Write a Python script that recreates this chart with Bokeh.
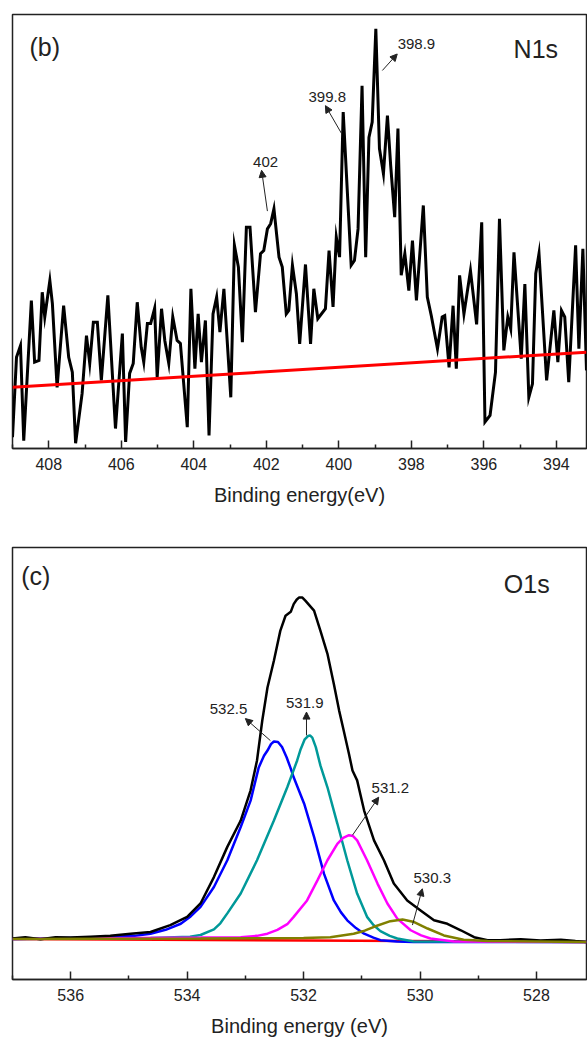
from bokeh.plotting import figure
from bokeh.models import Range1d, FixedTicker, Label, Arrow, NormalHead
from bokeh.layouts import column
from bokeh.embed import file_html
from bokeh.resources import INLINE

# ---------------- N1s (panel b) ----------------
n1s_energy = [409.00, 408.89, 408.78, 408.69, 408.48, 408.39, 408.27, 408.18, 408.11, 407.97,
              407.90, 407.77, 407.59, 407.45, 407.35, 407.26, 407.08, 406.96, 406.87, 406.77,
              406.66, 406.55, 406.37, 406.16, 405.97, 405.88, 405.77, 405.67, 405.56, 405.45,
              405.38, 405.28, 405.19, 405.08, 405.01, 404.89, 404.80, 404.69, 404.58, 404.46,
              404.37, 404.18, 404.08, 403.97, 403.88, 403.79, 403.68, 403.58, 403.47, 403.37,
              403.28, 403.17, 402.98, 402.88, 402.77, 402.66, 402.55, 402.45, 402.30, 402.16,
              402.07, 401.97, 401.88, 401.79, 401.65, 401.56, 401.45, 401.38, 401.28, 401.17,
              401.08, 400.92, 400.78, 400.69, 400.58, 400.37, 400.27, 400.16, 400.07, 399.98,
              399.88, 399.66, 399.57, 399.47, 399.36, 399.26, 399.17, 399.08, 398.98, 398.88,
              398.77, 398.66, 398.57, 398.46, 398.37, 398.28, 398.18, 398.07, 397.97, 397.86,
              397.67, 397.56, 397.45, 397.28, 397.15, 397.08, 396.96, 396.85, 396.76, 396.67,
              396.55, 396.37, 396.20, 396.06, 395.97, 395.83, 395.68, 395.57, 395.45, 395.34,
              395.26, 395.17, 394.97, 394.87, 394.76, 394.66, 394.57, 394.48, 394.27, 394.07,
              393.96, 393.86, 393.77, 393.66, 393.47, 393.38, 393.27, 393.17]
n1s_counts = [2.6, 21.0, 23.7, 1.8, 34.1, 19.9, 20.3, 36.0, 30.3, 38.7,
              33.4, 14.1, 32.9, 21.0, 17.6, 1.2, 12.7, 26.0, 19.6, 29.1,
              29.1, 15.7, 35.3, 4.6, 26.5, 1.5, 17.3, 19.6, 33.7, 23.3,
              19.9, 28.8, 28.8, 32.3, 16.4, 32.2, 24.9, 19.6, 30.3, 24.9,
              24.2, 4.9, 36.8, 18.4, 31.0, 19.9, 29.5, 3.0, 31.0, 34.9,
              26.8, 36.8, 11.8, 46.8, 41.8, 24.5, 51.0, 51.0, 31.4, 44.9,
              45.6, 50.6, 51.8, 55.2, 44.1, 41.8, 31.0, 31.8, 42.2, 35.6,
              24.1, 42.4, 24.1, 36.8, 29.9, 32.2, 45.6, 32.6, 48.7, 44.1,
              77.5, 42.2, 43.3, 50.6, 83.6, 44.1, 71.7, 75.2, 96.7, 69.1,
              63.3, 76.7, 65.2, 53.3, 73.7, 39.9, 44.9, 36.4, 47.9, 34.1,
              56.0, 34.9, 30.6, 23.0, 30.3, 30.6, 18.7, 32.9, 18.4, 39.9,
              31.0, 41.0, 28.6, 52.1, 6.1, 7.6, 17.6, 52.9, 22.6, 30.3,
              27.6, 45.2, 20.7, 37.9, 11.8, 14.9, 40.3, 44.9, 15.7, 31.8,
              19.9, 31.8, 30.3, 15.3, 46.8, 23.0, 46.0, 18.0]
n1s_bg_energy = [409.00, 393.17]
n1s_bg_counts = [14.1, 22.2]

n1s_ticks = [394, 396, 398, 400, 402, 404, 406, 408]
n1s_minor = [393, 395, 397, 399, 401, 403, 405, 407, 409]

n1s_peak_labels = ["402", "399.8", "398.9"]
n1s_label_e = [402.02, 400.32, 397.86]
n1s_label_i = [65.9, 81.1, 93.2]
n1s_tail_e = [401.97, 399.92, 398.80]
n1s_tail_i = [54.7, 72.5, 87.1]
n1s_tip_e = [402.13, 400.37, 398.39]
n1s_tip_i = [64.1, 79.0, 90.9]

# ---------------- O1s (panel c) ----------------
o1s_energy = [537.00, 536.78, 536.52, 536.26, 536.00, 535.66, 535.32, 534.97, 534.63, 534.29,
              534.00, 533.77, 533.54, 533.31, 533.08, 532.91, 532.80, 532.71, 532.62, 532.51,
              532.40, 532.31, 532.22, 532.17, 532.12, 532.08, 532.02, 531.97, 531.82, 531.71,
              531.59, 531.48, 531.39, 531.31, 531.22, 531.16, 531.08, 530.96, 530.79, 530.62,
              530.45, 530.22, 529.99, 529.76, 529.53, 529.30, 529.07, 528.84, 528.62, 528.27,
              527.93, 527.58, 527.33, 527.14]
o1s_counts = [9.5, 9.8, 9.3, 9.8, 9.7, 9.9, 10.1, 10.6, 11.0, 12.6,
              14.5, 17.6, 23.7, 30.7, 36.8, 43.8, 50.7, 59.9, 67.6, 73.8,
              80.7, 84.2, 85.1, 86.9, 87.9, 88.4, 88.4, 87.7, 85.4, 80.7,
              75.4, 68.4, 62.3, 57.6, 52.2, 48.4, 46.1, 39.1, 32.2, 27.6,
              22.2, 18.3, 16.0, 13.7, 12.9, 11.4, 9.8, 9.1, 9.1, 9.3,
              9.0, 9.2, 8.9, 8.7]

blue_energy = [537.00, 535.49, 534.90, 534.63, 534.37, 534.11, 533.94, 533.77, 533.54, 533.31,
               533.08, 532.91, 532.77, 532.68, 532.62, 532.56, 532.51, 532.44, 532.37, 532.29,
               532.22, 532.17, 531.99, 531.82, 531.65, 531.48, 531.36, 531.25, 531.10, 530.96,
               530.80, 530.68, 530.40, 530.11, 527.14]
blue_counts = [9.4, 9.7, 10.1, 10.6, 11.5, 12.9, 14.6, 16.8, 21.4, 27.6,
               35.3, 41.4, 49.1, 51.8, 53.0, 54.5, 55.1, 55.0, 53.8, 51.4,
               48.8, 46.8, 40.7, 33.0, 24.5, 18.3, 15.6, 13.7, 11.9, 10.6,
               9.7, 9.1, 8.8, 8.7, 8.7]

teal_energy = [537.00, 534.63, 533.95, 533.77, 533.54, 533.43, 533.31, 533.08, 532.80, 532.51,
               532.28, 532.11, 532.05, 531.98, 531.92, 531.89, 531.85, 531.79, 531.71, 531.59,
               531.42, 531.25, 531.08, 530.91, 530.80, 530.68, 530.52, 530.39, 530.11, 527.14]
teal_counts = [9.4, 9.6, 9.9, 10.3, 11.6, 13.0, 15.3, 19.9, 27.6, 36.8,
               44.5, 50.7, 53.3, 55.6, 56.4, 56.5, 56.0, 53.8, 49.5, 44.5,
               36.1, 27.6, 19.9, 14.5, 12.6, 11.2, 10.1, 9.5, 8.8, 8.7]

magenta_energy = [537.00, 533.77, 533.08, 532.80, 532.62, 532.45, 532.28, 532.17, 531.94, 531.76,
                  531.59, 531.42, 531.32, 531.22, 531.15, 531.08, 530.91, 530.73, 530.56, 530.39,
                  530.16, 529.98, 529.82, 529.42, 527.14]
magenta_counts = [9.4, 9.7, 9.8, 10.1, 10.6, 11.5, 12.8, 14.5, 18.3, 23.0,
                  27.6, 31.4, 32.8, 33.4, 33.2, 32.2, 27.6, 22.2, 17.6, 14.1,
                  11.4, 10.2, 9.5, 8.8, 8.7]

olive_energy = [537.00, 533.77, 532.00, 531.54, 531.14, 530.95, 530.79, 530.51, 530.30, 530.10,
                529.87, 529.59, 529.25, 528.84, 527.14]
olive_counts = [9.4, 9.5, 9.6, 9.8, 10.6, 11.3, 12.2, 13.5, 13.9, 13.3,
                11.8, 10.2, 9.2, 8.9, 8.7]

o1s_bg_energy = [537.00, 527.14]
o1s_bg_counts = [9.4, 8.7]

o1s_ticks = [528, 530, 532, 534, 536]
o1s_minor = [527, 529, 531, 533, 535, 537]

o1s_peak_labels = ["532.5", "531.9", "531.2", "530.3"]
o1s_label_e = [533.29, 531.98, 530.51, 529.79]
o1s_label_i = [62.7, 63.9, 44.3, 23.5]
o1s_tail_e = [532.57, 531.95, 531.16, 530.13]
o1s_tail_i = [55.3, 56.5, 33.4, 12.6]
o1s_tip_e = [533.00, 531.95, 530.71, 529.96]
o1s_tip_i = [60.4, 61.9, 42.2, 21.0]

FONT = "Liberation Sans"


def make_panel(xr, ticks, minor, xlabel, height, btop, bbottom, label_standoff):
    p = figure(width=587, height=height, x_range=Range1d(*xr), y_range=Range1d(0, 100),
               output_backend="svg", toolbar_location=None, y_axis_location=None,
               min_border_left=12, min_border_right=1, min_border_top=btop,
               min_border_bottom=bbottom, background_fill_color="white",
               border_fill_color="white")
    p.xgrid.visible = False
    p.ygrid.visible = False
    p.outline_line_color = "#222222"
    p.outline_line_width = 1.5
    ax = p.xaxis[0]
    ax.ticker = FixedTicker(ticks=ticks, minor_ticks=minor)
    ax.axis_line_color = "#222222"
    ax.axis_line_width = 1.5
    ax.major_tick_in = 8
    ax.major_tick_out = 0
    ax.minor_tick_in = 4
    ax.minor_tick_out = 0
    ax.major_tick_line_width = 1.5
    ax.minor_tick_line_width = 1.5
    ax.major_tick_line_color = "#222222"
    ax.minor_tick_line_color = "#222222"
    ax.major_label_text_font = FONT
    ax.major_label_text_font_size = "16px"
    ax.major_label_text_color = "#222222"
    ax.major_label_standoff = 9
    ax.axis_label = xlabel
    ax.axis_label_text_font = FONT
    ax.axis_label_text_font_size = "20px"
    ax.axis_label_text_font_style = "normal"
    ax.axis_label_text_color = "#222222"
    ax.axis_label_standoff = label_standoff
    return p


def annotate(p, labels, le, li, te, ti, he, hi):
    for t, x, y, x0, y0, x1, y1 in zip(labels, le, li, te, ti, he, hi):
        p.add_layout(Arrow(end=NormalHead(size=7, fill_color="#222222", line_color="#222222"),
                           x_start=x0, y_start=y0, x_end=x1, y_end=y1,
                           line_color="#222222", line_width=1))
        p.add_layout(Label(x=x, y=y, text=t, text_align="center", text_baseline="middle",
                           text_font=FONT, text_font_size="15px", text_color="#222222"))


# Panel b
p1 = make_panel((409.0, 393.17), n1s_ticks, n1s_minor, "Binding energy(eV)", 523, 14, 75, 11)
p1.line(n1s_energy, n1s_counts, line_color="black", line_width=3, line_join="miter")
p1.line(n1s_bg_energy, n1s_bg_counts, line_color="#ff0000", line_width=3)
annotate(p1, n1s_peak_labels, n1s_label_e, n1s_label_i, n1s_tail_e, n1s_tail_i, n1s_tip_e, n1s_tip_i)
p1.add_layout(Label(x=408.53, y=92.6, text="(b)", text_align="left", text_baseline="middle",
                    text_font=FONT, text_font_size="25px", text_color="#222222"))
p1.add_layout(Label(x=395.18, y=92.1, text="N1s", text_align="left", text_baseline="middle",
                    text_font=FONT, text_font_size="25px", text_color="#222222"))

# Panel c
p2 = make_panel((537.0, 527.14), o1s_ticks, o1s_minor, "Binding energy (eV)", 519, 24, 63, 11)
p2.line(o1s_bg_energy, o1s_bg_counts, line_color="#ff0000", line_width=2.5)
p2.line(blue_energy, blue_counts, line_color="#0000ff", line_width=2.5)
p2.line(teal_energy, teal_counts, line_color="#009999", line_width=2.5)
p2.line(magenta_energy, magenta_counts, line_color="#ff00ff", line_width=2.5)
p2.line(o1s_energy, o1s_counts, line_color="black", line_width=2.5)
p2.line(olive_energy, olive_counts, line_color="#808000", line_width=2.5)
annotate(p2, o1s_peak_labels, o1s_label_e, o1s_label_i, o1s_tail_e, o1s_tail_i, o1s_tip_e, o1s_tip_i)
p2.add_layout(Label(x=536.85, y=93.3, text="(c)", text_align="left", text_baseline="middle",
                    text_font=FONT, text_font_size="25px", text_color="#222222"))
p2.add_layout(Label(x=528.56, y=91.5, text="O1s", text_align="left", text_baseline="middle",
                    text_font=FONT, text_font_size="25px", text_color="#222222"))

layout = column(p1, p2)
open("out.html", "w").write(file_html(layout, INLINE))
